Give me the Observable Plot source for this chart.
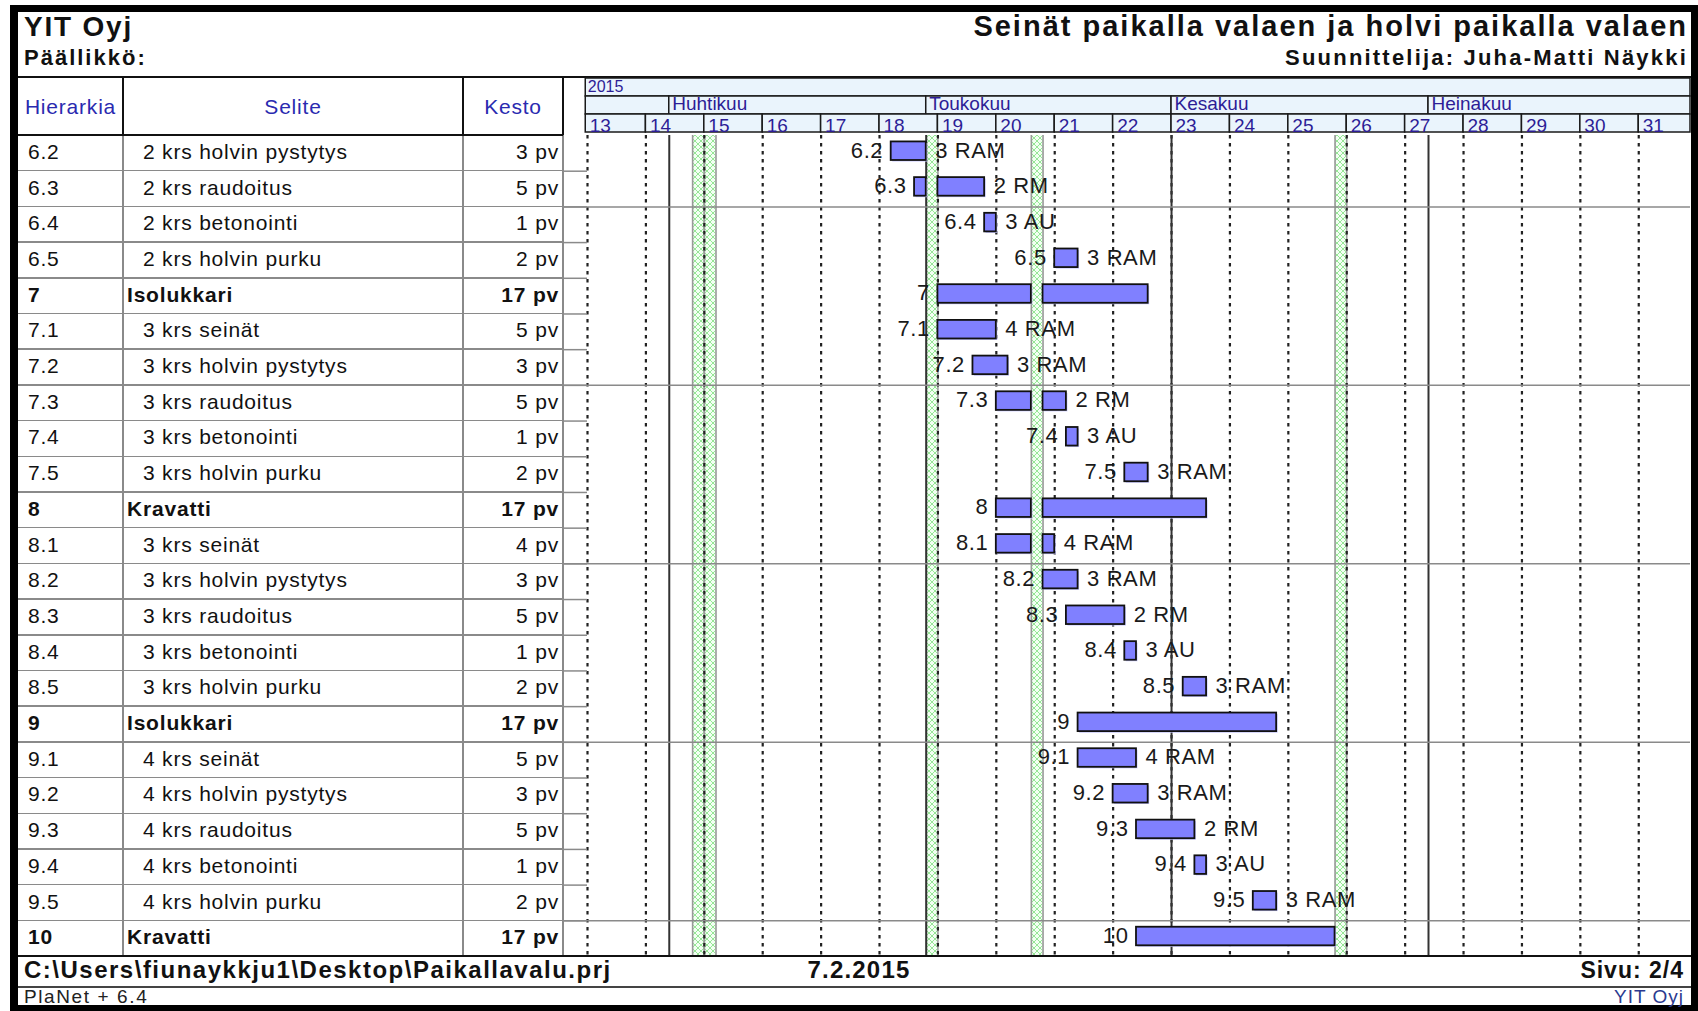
<!DOCTYPE html>
<html><head><meta charset="utf-8">
<script src="https://cdn.jsdelivr.net/npm/d3@7"></script>
<script src="https://cdn.jsdelivr.net/npm/@observablehq/plot@0.6"></script>
<style>
body{margin:0;background:#fff;font-family:"Liberation Sans",Arial,sans-serif;}
#page{position:relative;width:1698px;height:1011px;overflow:hidden;background:#fff;}
.abs{position:absolute;white-space:nowrap;line-height:1;}
.ln{position:absolute;}
</style></head><body><div id="page"></div>
<script>
// ---------- data ----------
const hierarkia = ["6.2","6.3","6.4","6.5","7","7.1","7.2","7.3","7.4","7.5","8","8.1","8.2","8.3","8.4","8.5","9","9.1","9.2","9.3","9.4","9.5","10"];
const selite = ["2 krs holvin pystytys","2 krs raudoitus","2 krs betonointi","2 krs holvin purku","Isolukkari","3 krs seinät","3 krs holvin pystytys","3 krs raudoitus","3 krs betonointi","3 krs holvin purku","Kravatti","3 krs seinät","3 krs holvin pystytys","3 krs raudoitus","3 krs betonointi","3 krs holvin purku","Isolukkari","4 krs seinät","4 krs holvin pystytys","4 krs raudoitus","4 krs betonointi","4 krs holvin purku","Kravatti"];
const kesto = [3,5,1,2,17,5,3,5,1,2,17,4,3,5,1,2,17,5,3,5,1,2,17];
const yhteenveto = ["7","8","9","10"];
const resurssi = ["3 RAM","2 RM","3 AU","3 RAM","","4 RAM","3 RAM","2 RM","3 AU","3 RAM","","4 RAM","3 RAM","2 RM","3 AU","3 RAM","","4 RAM","3 RAM","2 RM","3 AU","3 RAM",""];
// bar segments, in working days counted from Monday of week 13 (23.3.2015)
const segTask  = ["6.2","6.3","6.3","6.4","6.5","7","7","7.1","7.2","7.3","7.3","7.4","7.5","8","8","8.1","8.1","8.2","8.3","8.4","8.5","9","9.1","9.2","9.3","9.4","9.5","10"];
const segStart = [26,28,30,34,40,30,39,30,33,35,39,41,46,35,39,35,39,39,41,46,51,42,42,45,47,52,57,47];
const segDays  = [3,1,4,1,2,8,9,5,3,3,2,1,2,3,14,3,1,3,5,1,2,17,5,3,5,1,2,17];
const vuosi = "2015";
const viikot = d3.range(13, 32);
const kuukaudet = ["", "Huhtikuu", "Toukokuu", "Kesakuu", "Heinakuu"];
const kuukausiAlku = ["2015-04-01", "2015-05-01", "2015-06-01", "2015-07-01"];
const pyhat = ["2015-04-03", "2015-04-06", "2015-05-01", "2015-05-14", "2015-06-19"];
const alkuPaiva = "2015-03-23";

// ---------- helpers ----------
const origin = new Date(alkuPaiva + "T00:00:00Z");
const wd = s => { const days = Math.round((new Date(s + "T00:00:00Z") - origin) / 864e5); return Math.floor(days / 7) * 5 + Math.min(days % 7, 5); };

const page = d3.select("#page");
const INNER_L = 18, INNER_R = 1691;
const CHART_L = 563, CHART_W = 1127;
const X_DOMAIN = [-2.055, 94.43];
const HEAD_TOP = 77, BODY_TOP = 135, ROWH = 35.7;
const nRows = hierarkia.length;
const BODY_H = Math.round(nRows * ROWH);
const FONT = "'Liberation Sans', Arial, sans-serif";

function put(x, baseline, text, o = {}) {
  const size = o.size || 21;
  const d = page.append("div").attr("class", "abs").text(text)
    .style("top", (baseline - 0.8465 * size) + "px")
    .style("font-size", size + "px")
    .style("font-weight", o.bold ? "bold" : "normal")
    .style("color", o.color || "#111")
    .style("letter-spacing", (o.ls || 0) + "px");
  if (o.anchor === "end") d.style("right", (1698 - x) + "px");
  else if (o.anchor === "middle") d.style("left", x + "px").style("transform", "translateX(-50%)");
  else d.style("left", x + "px");
  return d;
}
function hline(x1, x2, y, w, c) { page.append("div").attr("class", "ln").style("left", x1 + "px").style("top", (y - w / 2) + "px").style("width", (x2 - x1) + "px").style("height", w + "px").style("background", c); }
function vline(x, y1, y2, w, c) { page.append("div").attr("class", "ln").style("left", (x - w / 2) + "px").style("top", y1 + "px").style("width", w + "px").style("height", (y2 - y1) + "px").style("background", c); }

// ---------- frame & titles ----------
page.append("div").attr("class", "ln").style("left", "10px").style("top", "5px").style("width", "1688px").style("height", "1006px")
  .style("box-sizing", "border-box").style("border-style", "solid").style("border-color", "#000")
  .style("border-width", "7px 7px 6px 8px");

put(24, 37, "YIT Oyj", {size: 28, bold: true, ls: 1.8});
put(24, 66, "Päällikkö:", {size: 22, bold: true, ls: 2});
put(1688, 37, "Seinät paikalla valaen ja holvi paikalla valaen", {size: 29, bold: true, ls: 2, anchor: "end"});
put(1688, 66, "Suunnittelija: Juha-Matti Näykki", {size: 22, bold: true, ls: 2.2, anchor: "end"});
hline(INNER_L, INNER_R, HEAD_TOP, 2, "#111");

// ---------- table ----------
const colX = [INNER_L, 123, 463, 563];
const BODY_BOTTOM = BODY_TOP + BODY_H;
for (let i = 1; i < nRows; i++) hline(INNER_L, CHART_L, BODY_TOP + i * ROWH, 1.5, "#8a8a8a");
[123, 463, 563].forEach(x => { vline(x, HEAD_TOP, BODY_TOP, 2, "#111"); vline(x, BODY_TOP, BODY_BOTTOM, 1.5, "#8a8a8a"); });
hline(INNER_L, CHART_L, BODY_TOP, 2, "#111");
const hdrColor = "#2a2ab0";
put((colX[0] + colX[1]) / 2, 113.5, "Hierarkia", {size: 21, ls: 0.8, color: hdrColor, anchor: "middle"});
put((colX[1] + colX[2]) / 2, 113.5, "Selite", {size: 21, ls: 0.8, color: hdrColor, anchor: "middle"});
put((colX[2] + colX[3]) / 2, 113.5, "Kesto", {size: 21, ls: 0.8, color: hdrColor, anchor: "middle"});
hierarkia.forEach((h, i) => {
  const b = yhteenveto.includes(h);
  const base = BODY_TOP + i * ROWH + 0.45 * ROWH + 0.358 * 21;
  put(28, base, h, {size: 21, ls: 0.8, bold: b});
  put(b ? 127 : 143, base, selite[i], {size: 21, ls: 0.8, bold: b});
  put(559, base, kesto[i] + " pv", {size: 21, ls: 0.8, bold: b, anchor: "end"});
});

// ---------- timeline header (Plot) ----------
const hStart = -0.15;
const mStarts = [hStart, ...kuukausiAlku.map(wd)];
const headCells = [
  {level: "vuosi", x1: hStart, x2: X_DOMAIN[1], label: vuosi},
  ...kuukaudet.map((m, i) => ({level: "kuukausi", x1: mStarts[i], x2: i + 1 < mStarts.length ? mStarts[i + 1] : X_DOMAIN[1], label: m})),
  ...viikot.map(w => ({level: "viikko", x1: w === 13 ? hStart : (w - 13) * 5, x2: Math.min((w - 12) * 5, X_DOMAIN[1]), label: String(w)}))
];
const headColor = "#2d1d96";
const header = Plot.plot({
  width: CHART_W, height: 58, margin: 0,
  style: `font-family:${FONT};overflow:visible;background:transparent;`,
  x: {domain: X_DOMAIN, range: [0, CHART_W], axis: null},
  y: {domain: ["vuosi", "kuukausi", "viikko"], range: [0, 55.5], padding: 0, axis: null},
  marks: [
    Plot.barX(headCells, {x1: "x1", x2: "x2", y: "level", fill: "#eaf4fc", stroke: "#1a1a1a", strokeWidth: 1.5}),
    Plot.text(headCells.filter(d => d.level === "vuosi"), {x: "x1", y: "level", text: "label", textAnchor: "start", dx: 2, dy: -1, fontSize: 16, fill: headColor}),
    Plot.text(headCells.filter(d => d.level === "kuukausi"), {x: "x1", y: "level", text: "label", textAnchor: "start", dx: 3, dy: -1.5, fontSize: 19, fill: headColor}),
    Plot.text(headCells.filter(d => d.level === "viikko"), {x: "x1", y: "level", text: "label", textAnchor: "start", dx: 4, dy: 2, fontSize: 19, fill: headColor})
  ]
});
page.append("div").attr("class", "abs").style("left", CHART_L + "px").style("top", HEAD_TOP + "px").style("width", CHART_W + "px").node().appendChild(header);

// ---------- chart body (Plot) ----------
const segs = segTask.map((t, k) => ({row: hierarkia.indexOf(t), x1: segStart[k], x2: segStart[k] + segDays[k]}));
const tasks = hierarkia.map((h, i) => {
  const s = segs.filter(d => d.row === i);
  return {row: i, id: h, res: resurssi[i], start: d3.min(s, d => d.x1), end: d3.max(s, d => d.x2)};
});
const holidayIdx = pyhat.map(wd);
const monthIdx = kuukausiAlku.map(wd);
const weekIdx = viikot.map(w => (w - 13) * 5);
const body = Plot.plot({
  width: CHART_W, height: BODY_H, margin: 0,
  style: `font-family:${FONT};font-size:22px;letter-spacing:0.6px;overflow:visible;background:transparent;`,
  x: {domain: X_DOMAIN, range: [0, CHART_W], axis: null},
  y: {domain: [0, nRows], range: [0, BODY_H], axis: null},
  marks: [
    Plot.rect(holidayIdx, {x1: d => d, x2: d => d + 1, y1: () => 0, y2: () => nRows, fill: "url(#hatch)"}),
    Plot.ruleX(holidayIdx.flatMap(d => [d, d + 1]), {stroke: "#999", strokeWidth: 1.6}),
    Plot.ruleX(weekIdx, {stroke: "#222", strokeWidth: 2.2, strokeDasharray: "3.5,4.5"}),
    Plot.ruleX(monthIdx, {stroke: "#333", strokeWidth: 2}),
    Plot.ruleY(d3.range(2, nRows, 5), {stroke: "#8a8a8a", strokeWidth: 1.5}),
    Plot.ruleY(d3.range(1, nRows), {x1: X_DOMAIN[0], x2: 0, stroke: "#8a8a8a", strokeWidth: 1.5}),
    Plot.rect(segs, {x1: "x1", x2: "x2", y1: d => d.row + 0.18, y2: d => d.row + 0.70, fill: "#c6c6ff", dx: 1.5, dy: 1.5}),
    Plot.rect(segs, {x1: "x1", x2: "x2", y1: d => d.row + 0.18, y2: d => d.row + 0.70, fill: "#8080ff", stroke: "#111", strokeWidth: 1.8}),
    Plot.text(tasks, {x: "start", y: d => d.row + 0.42, text: "id", textAnchor: "end", dx: -8, fill: "#1a1a1a", fontSize: 22}),
    Plot.text(tasks.filter(d => d.res), {x: "end", y: d => d.row + 0.42, text: "res", textAnchor: "start", dx: 9, fill: "#1a1a1a", fontSize: 22})
  ]
});
d3.select(body).insert("defs", ":first-child").html(
  '<pattern id="hatch" width="6" height="6" patternUnits="userSpaceOnUse">' +
  '<rect width="6" height="6" fill="#f2fff2"/><path d="M0,0L6,6M6,0L0,6" stroke="#96e696" stroke-width="1"/></pattern>');
page.append("div").attr("class", "abs").style("left", CHART_L + "px").style("top", BODY_TOP + "px").style("width", CHART_W + "px").node().appendChild(body);

// ---------- footer ----------
hline(INNER_L, INNER_R, BODY_BOTTOM, 2, "#111");
put(24, 978, "C:\\Users\\fiunaykkju1\\Desktop\\Paikallavalu.prj", {size: 24, bold: true, ls: 1.5});
put(859, 978, "7.2.2015", {size: 24, bold: true, ls: 1.2, anchor: "middle"});
put(1684, 978, "Sivu: 2/4", {size: 23, bold: true, ls: 1, anchor: "end"});
hline(INNER_L, INNER_R, 987, 1.5, "#444");
put(24, 1003.5, "PlaNet + 6.4", {size: 19, ls: 1.6, color: "#222"});
put(1684, 1003.5, "YIT Oyj", {size: 19, ls: 1, color: "#2b3a8f", anchor: "end"});
</script></body></html>
